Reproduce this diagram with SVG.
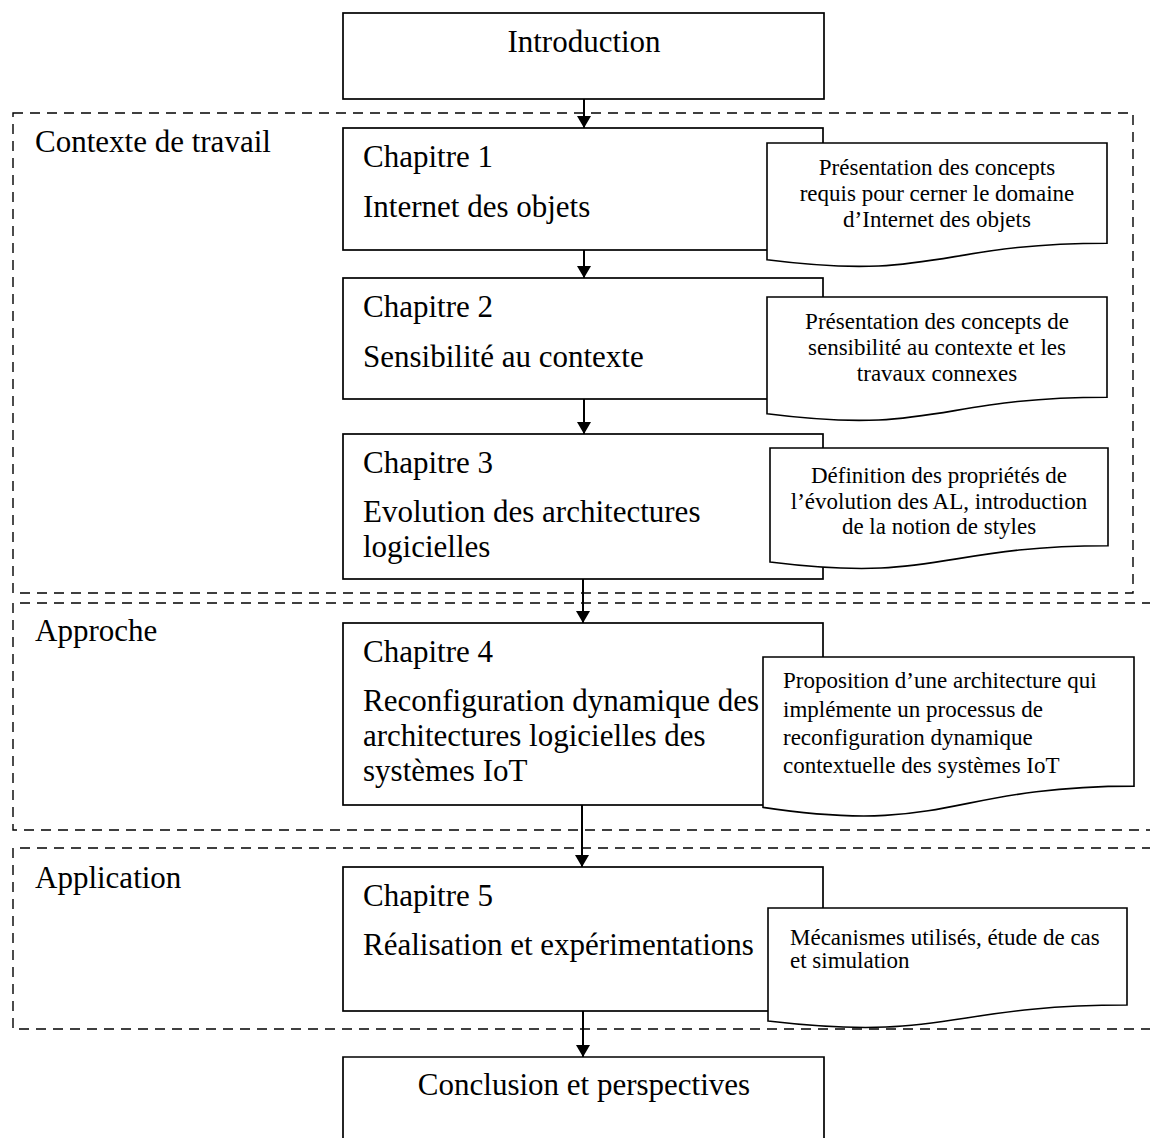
<svg xmlns="http://www.w3.org/2000/svg" width="1150" height="1138" viewBox="0 0 1150 1138">
  <style>
    .zone { fill: none; stroke: #000; stroke-width: 1.4; stroke-dasharray: 10 7; }
    .box { fill: #fff; stroke: #000; stroke-width: 1.7; }
    .doc { fill: #fff; stroke: #000; stroke-width: 1.6; stroke-linejoin: miter; }
    .big { font-family: "Liberation Serif", "Times New Roman", serif; font-size: 31px; fill: #000; }
    .small { font-family: "Liberation Serif", "Times New Roman", serif; font-size: 23px; fill: #000; }
    .mid { text-anchor: middle; }
    .conn { stroke: #000; stroke-width: 2; fill: none; }
  </style>
  <defs>
    <marker id="arrow" viewBox="0 0 12 14" refX="12" refY="7" markerWidth="12" markerHeight="14" markerUnits="userSpaceOnUse" orient="auto">
      <path d="M0,0 L12,7 L0,14 Z" fill="#000"/>
    </marker>
  </defs>
  <rect width="1150" height="1138" fill="#fff"/>

  <!-- section frames -->
  <g id="zone-contexte">
    <rect class="zone" x="13" y="113" width="1120" height="480"/>
    <text class="big" x="35" y="152">Contexte de travail</text>
  </g>
  <g id="zone-approche">
    <path class="zone" d="M1152,603 H13 V830 H1152"/>
    <text class="big" x="35" y="641">Approche</text>
  </g>
  <g id="zone-application">
    <path class="zone" d="M1152,848 H13 V1029 H1152"/>
    <text class="big" x="35" y="888">Application</text>
  </g>

  <!-- main flow -->
  <g id="introduction">
    <rect class="box" x="343" y="13" width="481" height="86"/>
    <text class="big mid" x="584" y="52">Introduction</text>
  </g>

  <g id="chapitre1">
    <rect class="box" x="343" y="128" width="480" height="122"/>
    <text class="big" x="363" y="167">Chapitre 1</text>
    <text class="big" x="363" y="217">Internet des objets</text>
  </g>
  <g id="note1">
    <path class="doc" d="M767,143 H1107 V243.2 C937,243.2 937,281.4 767,259.8 Z"/>
    <text class="small mid" x="937" y="175">Présentation des concepts</text>
    <text class="small mid" x="937" y="201">requis pour cerner le domaine</text>
    <text class="small mid" x="937" y="227">d’Internet des objets</text>
  </g>

  <g id="chapitre2">
    <rect class="box" x="343" y="278" width="480" height="121"/>
    <text class="big" x="363" y="317">Chapitre 2</text>
    <text class="big" x="363" y="367">Sensibilité au contexte</text>
  </g>
  <g id="note2">
    <path class="doc" d="M767,297 H1107 V397.2 C937,397.2 937,435.4 767,413.8 Z"/>
    <text class="small mid" x="937" y="329">Présentation des concepts de</text>
    <text class="small mid" x="937" y="355">sensibilité au contexte et les</text>
    <text class="small mid" x="937" y="381">travaux connexes</text>
  </g>

  <g id="chapitre3">
    <rect class="box" x="343" y="434" width="480" height="145"/>
    <text class="big" x="363" y="473">Chapitre 3</text>
    <text class="big" x="363" y="522">Evolution des architectures</text>
    <text class="big" x="363" y="557">logicielles</text>
  </g>
  <g id="note3">
    <path class="doc" d="M770,448 H1108 V545.8 C939,545.8 939,583.1 770,562 Z"/>
    <text class="small mid" x="939" y="483">Définition des propriétés de</text>
    <text class="small mid" x="939" y="509">l’évolution des AL, introduction</text>
    <text class="small mid" x="939" y="534">de la notion de styles</text>
  </g>

  <g id="chapitre4">
    <rect class="box" x="343" y="623" width="480" height="182"/>
    <text class="big" x="363" y="662">Chapitre 4</text>
    <text class="big" x="363" y="711">Reconfiguration dynamique des</text>
    <text class="big" x="363" y="746">architectures logicielles des</text>
    <text class="big" x="363" y="781">systèmes IoT</text>
  </g>
  <g id="note4">
    <path class="doc" d="M763,657 H1134 V786.1 C948.5,786.1 948.5,835.3 763,807.4 Z"/>
    <text class="small" x="783" y="688">Proposition d’une architecture qui</text>
    <text class="small" x="783" y="717">implémente un processus de</text>
    <text class="small" x="783" y="745">reconfiguration dynamique</text>
    <text class="small" x="783" y="773">contextuelle des systèmes IoT</text>
  </g>

  <g id="chapitre5">
    <rect class="box" x="343" y="867" width="480" height="144"/>
    <text class="big" x="363" y="906">Chapitre 5</text>
    <text class="big" x="363" y="955">Réalisation et expérimentations</text>
  </g>
  <g id="note5">
    <path class="doc" d="M768,908 H1127 V1005 C947.5,1005 947.5,1042 768,1021 Z"/>
    <text class="small" x="790" y="945">Mécanismes utilisés, étude de cas</text>
    <text class="small" x="790" y="968">et simulation</text>
  </g>

  <g id="conclusion">
    <path class="box" d="M343,1145 V1057 H824 V1145"/>
    <text class="big mid" x="584" y="1095">Conclusion et perspectives</text>
  </g>

  <!-- connectors -->
  <g id="connectors">
    <line class="conn" x1="584" y1="99" x2="584" y2="128" marker-end="url(#arrow)"/>
    <line class="conn" x1="584" y1="250" x2="584" y2="278" marker-end="url(#arrow)"/>
    <line class="conn" x1="584" y1="399" x2="584" y2="434" marker-end="url(#arrow)"/>
    <line class="conn" x1="583" y1="579" x2="583" y2="623" marker-end="url(#arrow)"/>
    <line class="conn" x1="582" y1="805" x2="582" y2="867" marker-end="url(#arrow)"/>
    <line class="conn" x1="583" y1="1011" x2="583" y2="1057" marker-end="url(#arrow)"/>
  </g>
</svg>
